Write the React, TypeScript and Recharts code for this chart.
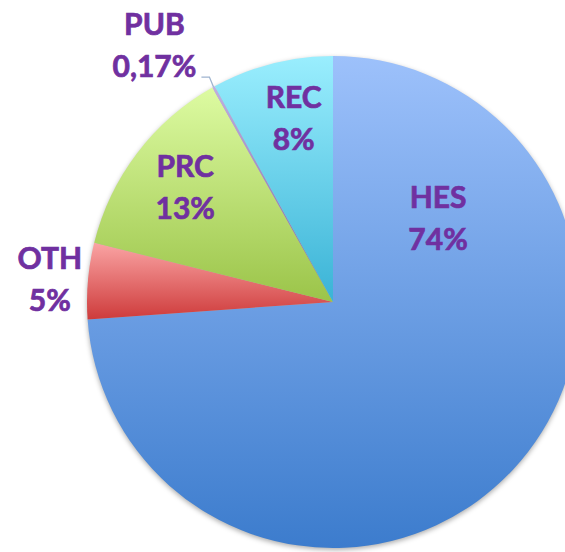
import React from 'react';
import { PieChart, Pie, Cell } from 'recharts';

const categories = ['HES', 'OTH', 'PRC', 'PUB', 'REC'];
const shares = [74, 5, 13, 0.17, 8];

const gradients: Record<string, [string, string]> = {
  HES: ['#9dc1fb', '#3c7ccd'],
  OTH: ['#faa4a4', '#ce3b3b'],
  PRC: ['#ddfba2', '#9bc449'],
  PUB: ['#c0aee0', '#7a5ea0'],
  REC: ['#9aeefe', '#3ab3d6'],
};

// label placement: angle (deg, absolute or relative to midAngle) and radius factor
const labelPlacement: Record<string, { angle?: number; shift?: number; r: number }> = {
  HES: { angle: 38.8, r: 0.548 },
  OTH: { shift: 0.3, r: 1.155 },
  PRC: { shift: -0.5, r: 0.76 },
  PUB: { angle: 124.8, r: 1.272 },
  REC: { shift: -2.3, r: 0.765 },
};

const data = categories.map((name, i) => ({ name, value: shares[i] }));

const RAD = Math.PI / 180;
const PURPLE = '#7030a0';

const fmtPct = (v: number) => (v < 1 ? v.toFixed(2).replace('.', ',') : String(v)) + '%';

const textStyle = {
  fill: PURPLE,
  stroke: PURPLE,
  strokeWidth: 0.7,
  fontFamily: "Lato, 'Open Sans', sans-serif",
  fontWeight: 700,
  fontSize: 30,
};

const renderLabel = (props: any) => {
  const { cx, cy, midAngle, outerRadius, name, value } = props;
  const p = labelPlacement[name];
  const ang = p.angle !== undefined ? p.angle : midAngle + (p.shift || 0);
  const r = outerRadius * p.r;
  const x = cx + r * Math.cos(ang * RAD);
  const y = cy - r * Math.sin(ang * RAD);
  const b1 = y - 10;
  const b2 = y + 32;
  let line = null;
  if (name === 'PUB') {
    const ex = cx + outerRadius * Math.cos(midAngle * RAD);
    const ey = cy - outerRadius * Math.sin(midAngle * RAD);
    const elbowX = x + 55;
    const ly = b2;
    line = (
      <polyline
        points={`${x + 47},${ly} ${elbowX},${ly} ${ex},${ey}`}
        fill="none"
        stroke="#9fb4cf"
        strokeWidth={1.3}
      />
    );
  }
  return (
    <g key={`lbl-${name}`}>
      {line}
      <text x={x} y={b1} textAnchor="middle" style={textStyle}>
        {name}
      </text>
      <text x={x} y={b2} textAnchor="middle" style={textStyle}>
        {fmtPct(value)}
      </text>
    </g>
  );
};

export default function App() {
  return (
    <div style={{ position: 'absolute', left: 0, top: 0, width: 565, height: 552, background: '#fff', overflow: 'hidden' }}>
      <PieChart width={565} height={552} margin={{ top: 0, right: 0, bottom: 0, left: 0 }}>
        <defs>
          {categories.map((c) => (
            <linearGradient key={c} id={`g-${c}`} x1="0" y1="0" x2="0" y2="1">
              <stop offset="0%" stopColor={gradients[c][0]} />
              <stop offset="100%" stopColor={gradients[c][1]} />
            </linearGradient>
          ))}
          <filter id="pieShadow" x="-20%" y="-20%" width="140%" height="140%">
            <feGaussianBlur stdDeviation="2.5" />
          </filter>
        </defs>
        <Pie
          data={data}
          dataKey="value"
          nameKey="name"
          cx={333}
          cy={304}
          outerRadius={246}
          startAngle={90}
          endAngle={-270}
          stroke="none"
          label={false}
          labelLine={false}
          isAnimationActive={false}
        >
          {data.map((d) => (
            <Cell key={`s-${d.name}`} fill="rgba(0,0,0,0.32)" filter="url(#pieShadow)" />
          ))}
        </Pie>
        <Pie
          data={data}
          dataKey="value"
          nameKey="name"
          cx={333}
          cy={302}
          outerRadius={246}
          startAngle={90}
          endAngle={-270}
          stroke="none"
          label={renderLabel}
          labelLine={false}
          isAnimationActive={false}
        >
          {data.map((d) => (
            <Cell key={`c-${d.name}`} fill={`url(#g-${d.name})`} />
          ))}
        </Pie>
      </PieChart>
    </div>
  );
}
